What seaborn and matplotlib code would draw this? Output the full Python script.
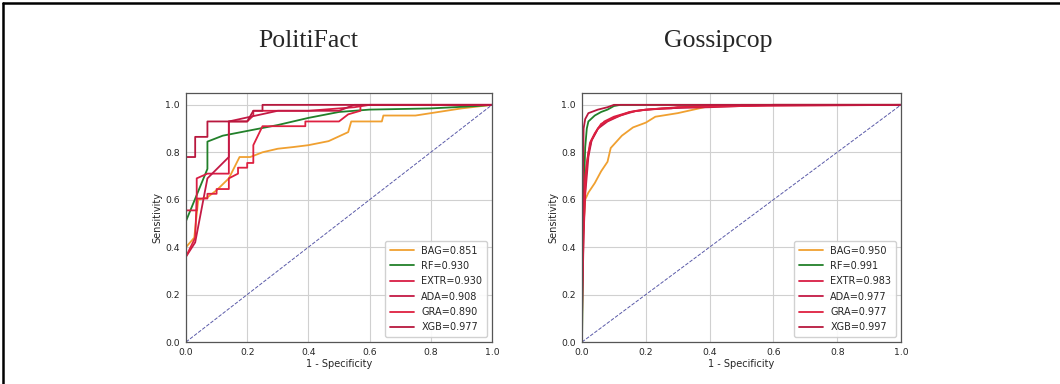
import numpy as np
import pandas as pd
import matplotlib
matplotlib.use("Agg")
import matplotlib.pyplot as plt
import seaborn as sns
from matplotlib.lines import Line2D

# PolitiFact ROC curves
pf_bag_x = [0, 0.027, 0.04, 0.07, 0.1, 0.14, 0.175, 0.21, 0.25, 0.3, 0.35, 0.4, 0.466, 0.53, 0.54, 0.64, 0.645, 0.75, 0.8, 0.9, 1.0]
pf_bag_y = [0.40, 0.44, 0.60, 0.61, 0.64, 0.69, 0.78, 0.78, 0.80, 0.815, 0.822, 0.83, 0.847, 0.885, 0.93, 0.93, 0.955, 0.955, 0.965, 0.985, 1.0]
pf_rf_x = [0, 0.035, 0.07, 0.07, 0.12, 0.2, 0.3, 0.4, 0.5, 0.6, 0.8, 0.95, 1.0]
pf_rf_y = [0.51, 0.62, 0.73, 0.845, 0.87, 0.89, 0.915, 0.945, 0.97, 0.98, 0.985, 0.995, 1.0]
pf_extr_x = [0, 0, 0.035, 0.035, 0.07, 0.14, 0.14, 0.2, 0.22, 0.22, 0.4, 0.55, 0.6, 1.0]
pf_extr_y = [0, 0.555, 0.555, 0.69, 0.71, 0.71, 0.93, 0.93, 0.955, 0.975, 0.975, 0.99, 1.0, 1.0]
pf_ada_x = [0, 0, 0.03, 0.07, 0.14, 0.14, 0.3, 0.5, 0.55, 1.0]
pf_ada_y = [0, 0.36, 0.42, 0.69, 0.78, 0.93, 0.975, 0.975, 1.0, 1.0]
pf_gra_x = [0, 0, 0.03, 0.035, 0.07, 0.07, 0.1, 0.1, 0.14, 0.14, 0.17, 0.17, 0.2, 0.2, 0.22, 0.22, 0.25, 0.36, 0.39, 0.39, 0.5, 0.53, 0.57, 0.57, 1.0]
pf_gra_y = [0, 0.36, 0.44, 0.605, 0.605, 0.625, 0.625, 0.645, 0.645, 0.69, 0.71, 0.735, 0.735, 0.755, 0.755, 0.83, 0.91, 0.91, 0.91, 0.93, 0.93, 0.96, 0.975, 1.0, 1.0]
pf_xgb_x = [0, 0, 0.03, 0.03, 0.07, 0.07, 0.2, 0.22, 0.25, 0.25, 1.0]
pf_xgb_y = [0, 0.78, 0.78, 0.865, 0.865, 0.93, 0.93, 0.975, 0.975, 1.0, 1.0]

# Gossipcop ROC curves
gc_bag_x = [0, 0.003, 0.01, 0.02, 0.04, 0.06, 0.08, 0.09, 0.125, 0.16, 0.2, 0.23, 0.3, 0.35, 0.4, 0.5, 1.0]
gc_bag_y = [0, 0.45, 0.60, 0.63, 0.67, 0.72, 0.76, 0.818, 0.87, 0.905, 0.925, 0.95, 0.965, 0.98, 0.995, 1.0, 1.0]
gc_rf_x = [0, 0.005, 0.01, 0.015, 0.02, 0.04, 0.06, 0.08, 0.1, 0.12, 1.0]
gc_rf_y = [0, 0.6, 0.82, 0.9, 0.93, 0.955, 0.97, 0.98, 0.995, 1.0, 1.0]
gc_extr_x = [0, 0, 0.01, 0.02, 0.03, 0.05, 0.07, 0.1, 0.15, 0.2, 0.28, 0.3, 0.4, 0.6, 1.0]
gc_extr_y = [0, 0.45, 0.7, 0.8, 0.85, 0.9, 0.93, 0.95, 0.97, 0.98, 0.985, 0.99, 0.995, 1.0, 1.0]
gc_ada_x = [0, 0, 0.005, 0.01, 0.02, 0.03, 0.05, 0.08, 0.12, 0.17, 0.25, 0.4, 0.6, 1.0]
gc_ada_y = [0, 0.1, 0.45, 0.62, 0.78, 0.85, 0.9, 0.93, 0.955, 0.975, 0.985, 0.99, 1.0, 1.0]
gc_gra_x = [0, 0, 0.008, 0.015, 0.025, 0.04, 0.06, 0.1, 0.15, 0.2, 0.3, 0.5, 1.0]
gc_gra_y = [0, 0.2, 0.6, 0.75, 0.84, 0.88, 0.92, 0.945, 0.97, 0.98, 0.99, 0.995, 1.0]
gc_xgb_x = [0, 0, 0.002, 0.005, 0.01, 0.02, 0.05, 0.08, 0.1, 1.0]
gc_xgb_y = [0, 0.1, 0.6, 0.9, 0.94, 0.965, 0.98, 0.99, 1.0, 1.0]

models = ["BAG", "RF", "EXTR", "ADA", "GRA", "XGB"]
pf_auc = ["0.851", "0.930", "0.930", "0.908", "0.890", "0.977"]
gc_auc = ["0.950", "0.991", "0.983", "0.977", "0.977", "0.997"]
colors = ["#f0a030", "#22802a", "#d81e44", "#c41a45", "#de2040", "#b8183e"]

pf_curves = [(pf_bag_x, pf_bag_y), (pf_rf_x, pf_rf_y), (pf_extr_x, pf_extr_y),
             (pf_ada_x, pf_ada_y), (pf_gra_x, pf_gra_y), (pf_xgb_x, pf_xgb_y)]
gc_curves = [(gc_bag_x, gc_bag_y), (gc_rf_x, gc_rf_y), (gc_extr_x, gc_extr_y),
             (gc_ada_x, gc_ada_y), (gc_gra_x, gc_gra_y), (gc_xgb_x, gc_xgb_y)]

sns.set_style("whitegrid", {"axes.edgecolor": "#555555", "grid.color": "#d0d0d0"})
plt.rcParams["font.family"] = ["DejaVu Sans"]

fig = plt.figure(figsize=(10.6, 3.84), dpi=100)
W, H = 1060, 384


def roc_panel(rect, curves, aucs):
    ax = fig.add_axes(rect)
    for (xs, ys), name, auc, col in zip(curves, models, aucs, colors):
        df = pd.DataFrame({"x": xs, "y": ys})
        sns.lineplot(data=df, x="x", y="y", sort=False, estimator=None,
                     color=col, lw=1.3, label=f"{name}={auc}", ax=ax)
    ax.plot([0, 1], [0, 1], ls="--", color="#5a5aa8", lw=0.7)
    ax.set_xlim(0, 1.0)
    ax.set_ylim(0, 1.05)
    ax.set_xticks(np.arange(0, 1.01, 0.2))
    ax.set_yticks(np.arange(0, 1.01, 0.2))
    ax.set_xlabel("1 - Specificity", fontsize=7, labelpad=1)
    ax.set_ylabel("Sensitivity", fontsize=7, labelpad=2)
    ax.tick_params(labelsize=6.7, length=3, width=0.6, pad=1.5, color="#555555")
    for s in ax.spines.values():
        s.set_linewidth(0.9)
    ax.grid(True, lw=0.8)
    ax.legend(loc="lower right", fontsize=7, frameon=True, labelspacing=0.55,
              handlelength=2.4, borderpad=0.5, framealpha=0.9)
    return ax


roc_panel([186 / W, 1 - 342 / H, 306 / W, 249 / H], pf_curves, pf_auc)
roc_panel([582 / W, 1 - 342 / H, 319 / W, 249 / H], gc_curves, gc_auc)

fig.text(308 / W, 1 - 41 / H, "PolitiFact", ha="center", va="center",
         fontsize=18.5, family="Liberation Serif")
fig.text(718 / W, 1 - 41 / H, "Gossipcop", ha="center", va="center",
         fontsize=18.5, family="Liberation Serif")

# frame edges of the original figure box
fig.add_artist(Line2D([3 / W, 3 / W], [0, 1 - 2.5 / H], color="black", lw=1.8))
fig.add_artist(Line2D([3 / W, 1], [1 - 2.5 / H, 1 - 2.5 / H], color="black", lw=1.8))

fig.savefig("out.png", dpi=100)
